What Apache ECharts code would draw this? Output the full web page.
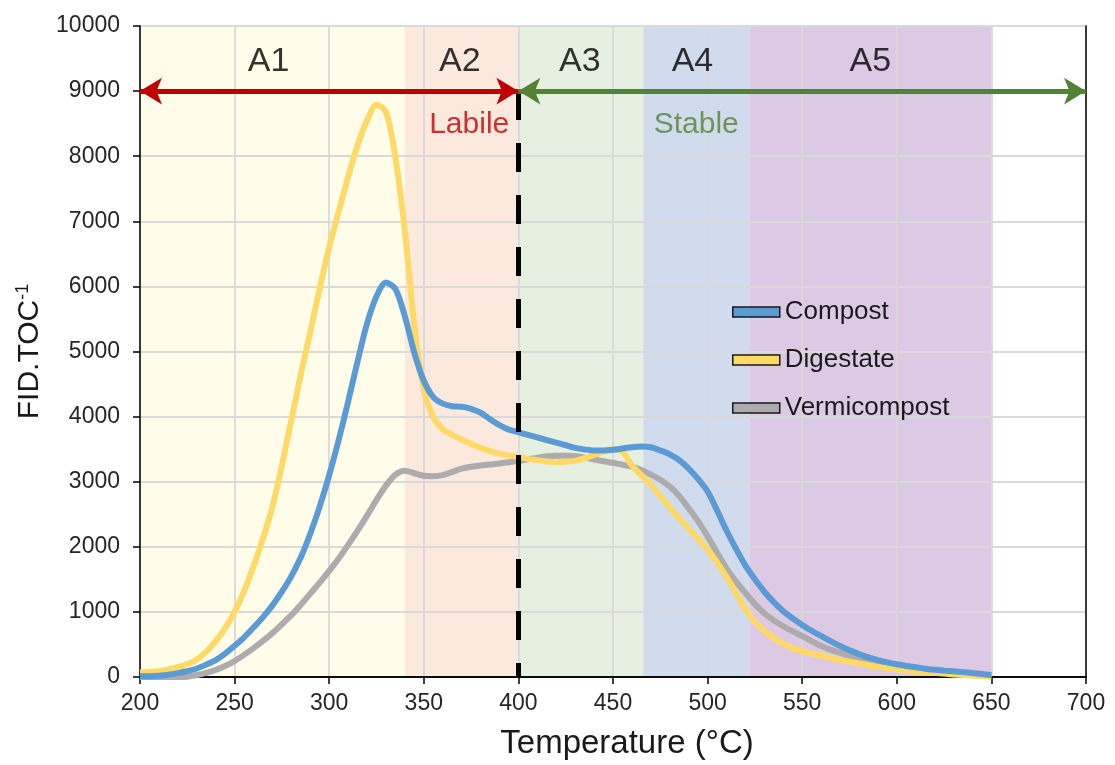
<!DOCTYPE html>
<html>
<head>
<meta charset="utf-8">
<script src="https://cdn.jsdelivr.net/npm/echarts@6/dist/echarts.min.js"></script>
<style>html,body{margin:0;padding:0;background:#fff;}#c{width:1115px;height:765px;}</style>
</head>
<body>
<div id="c"></div>
<script>
// Temperatures (°C)
var temps = [200,205,210,215,220,225,230,235,240,245,250,255,260,265,270,275,280,285,290,295,
  300,305,310,315,320,325,330,335,340,345,350,355,360,365,370,375,380,385,390,395,
  400,405,410,415,420,425,430,435,440,445,450,455,460,465,470,475,480,485,490,495,
  500,505,510,515,520,525,530,535,540,545,550,555,560,565,570,575,580,585,590,595,
  600,605,610,615,620,625,630,635,640,645,650];
var compost = [10,12,20,35,60,90,130,190,260,360,480,610,760,920,1100,1310,1550,1840,2200,2620,
  3100,3640,4230,4850,5430,5850,6060,5960,5540,4980,4550,4300,4200,4160,4150,4120,4060,3960,3870,3800,
  3760,3720,3680,3640,3600,3560,3520,3495,3480,3480,3490,3510,3530,3540,3530,3480,3420,3330,3200,3040,
  2850,2560,2250,1970,1710,1500,1310,1150,1010,900,800,710,630,550,475,410,352,300,260,225,
  195,170,150,128,110,98,88,75,60,45,30];
var digestate = [70,78,90,115,150,200,270,390,550,750,1000,1320,1700,2130,2620,3250,3950,4650,5300,5970,
  6600,7150,7680,8170,8550,8790,8680,7980,6850,5400,4420,3990,3810,3720,3650,3580,3520,3470,3430,3400,
  3380,3350,3330,3310,3300,3305,3320,3360,3410,3460,3500,3460,3250,3100,2950,2780,2600,2440,2280,2120,
  1960,1760,1540,1290,1040,850,710,600,510,445,395,360,330,295,260,235,210,180,155,135,
  118,100,85,75,65,52,40,30,22,15,10];
var vermicompost = [0,0,0,0,0,5,30,65,110,170,245,340,444,555,674,810,950,1110,1280,1450,
  1630,1820,2030,2250,2480,2720,2940,3110,3170,3130,3090,3085,3100,3150,3200,3230,3250,3265,3280,3300,
  3320,3345,3370,3390,3400,3400,3395,3370,3340,3315,3290,3260,3230,3180,3110,3030,2925,2780,2590,2390,
  2160,1910,1670,1470,1290,1120,980,870,780,700,630,550,475,420,370,320,275,240,210,185,
  165,140,120,105,90,75,60,45,30,20,10];

// Zones
var bandStart = [200,340,400,466,522];
var bandEnd = [340,400,466,522,650];
var bandColors = ['#FFFDEA','#FBE9DE','#E6F0E1','#D0DCEE','#DCCAE5'];
var zoneNames = ['A1','A2','A3','A4','A5'];
var zoneLabelX = [268,369,432.5,492,586];
var zoneLabelY = 9460;

var splitT = 400, arrowY = 9000;
var annoNames = ['Labile','Stable'];
var annoX = [374,494];
var annoY = 8480;

var chart = echarts.init(document.getElementById('c'));
var font = 'Liberation Sans, Arial, sans-serif';

function pairs(ys){ return temps.map(function(t,i){ return [t, ys[i]]; }); }

var bandData = bandStart.map(function(s,i){ return [s, bandEnd[i], i]; });

var option = {
  animation: false,
  backgroundColor: '#fff',
  grid: {left: 140, right: 29, top: 26, bottom: 86},
  legend: {
    orient: 'vertical', left: 727, top: 294,
    itemWidth: 47, itemHeight: 10, itemGap: 22,
    icon: 'rect',
    itemStyle: {borderColor: '#1a1a1a', borderWidth: 1.5},
    textStyle: {fontSize: 26, color: '#1a1a1a', fontFamily: font, padding: [0,0,0,0]},
    data: ['Compost','Digestate','Vermicompost']
  },
  xAxis: [{
    type: 'value', min: 200, max: 700, interval: 50,
    name: 'Temperature (°C)', nameLocation: 'middle', nameGap: 50,
    nameTextStyle: {fontSize: 33, color: '#1a1a1a', fontFamily: font, padding: [0,0,0,28]},
    axisLine: {lineStyle: {color: '#000', width: 1.5}},
    axisTick: {show: true, length: 7, lineStyle: {color: '#000', width: 1.5}},
    axisLabel: {fontSize: 23, color: '#262626', fontFamily: font, margin: 15},
    splitLine: {show: true, lineStyle: {color: '#D9D9D9', width: 1.8}}
  },{
    type: 'value', min: 200, max: 700, position: 'top',
    axisLine: {show: true, lineStyle: {color: '#000', width: 1.5}},
    axisTick: {show: false}, axisLabel: {show: false}, splitLine: {show: false}
  }],
  yAxis: [{
    type: 'value', min: 0, max: 10000, interval: 1000,
    name: '{a|FID.TOC}{b|-1}', nameLocation: 'middle', nameGap: 92, nameRotate: 90,
    nameTextStyle: {rich: {
      a: {fontSize: 30, color: '#1a1a1a', fontFamily: font},
      b: {fontSize: 18, color: '#1a1a1a', fontFamily: font, verticalAlign: 'top', padding: [0,0,14,0]}
    }},
    axisLine: {show: true, lineStyle: {color: '#000', width: 1.5}},
    axisTick: {show: true, length: 7, lineStyle: {color: '#000', width: 1.5}},
    axisLabel: {fontSize: 23, color: '#262626', fontFamily: font, margin: 20,
      formatter: function(v){ return String(v); }},
    splitLine: {show: true, lineStyle: {color: '#D9D9D9', width: 1.8}}
  },{
    type: 'value', min: 0, max: 10000, position: 'right',
    axisLine: {show: true, lineStyle: {color: '#000', width: 1.5}},
    axisTick: {show: false}, axisLabel: {show: false}, splitLine: {show: false}
  }],
  series: [
    {
      type: 'custom', name: 'bands', z: -1, silent: true,
      data: bandData,
      encode: {x: [0,1]},
      renderItem: function(params, api){
        var p0 = api.coord([api.value(0), 10000]);
        var p1 = api.coord([api.value(1), 0]);
        return {type: 'rect', shape: {x: p0[0], y: p0[1], width: p1[0]-p0[0], height: p1[1]-p0[1]},
                style: {fill: bandColors[api.value(2)]}};
      }
    },
    {
      name: 'Vermicompost', type: 'line', smooth: 0.3, showSymbol: false, z: 2,
      data: pairs(vermicompost),
      itemStyle: {color: '#ADABAB'},
      lineStyle: {color: '#ADABAB', width: 6}
    },
    {
      name: 'Digestate', type: 'line', smooth: 0.3, showSymbol: false, z: 3,
      data: pairs(digestate),
      itemStyle: {color: '#FFD966'},
      lineStyle: {color: '#FFD966', width: 6}
    },
    {
      name: 'Compost', type: 'line', smooth: 0.3, showSymbol: false, z: 4,
      data: pairs(compost),
      itemStyle: {color: '#5B9BD5'},
      lineStyle: {color: '#5B9BD5', width: 6},
      markLine: {
        silent: true, z: 10,
        symbol: ['none','none'],
        label: {show: false},
        data: [
          [{coord: [splitT, arrowY], lineStyle: {color: '#000', width: 5, type: [29, 23]}}, {coord: [splitT, 0]}],
          [{coord: [200, arrowY], symbol: 'arrow', symbolSize: [20, 22], lineStyle: {color: '#C00000', width: 5, type: 'solid'}}, {coord: [splitT, arrowY], symbol: 'arrow', symbolSize: [20, 22]}],
          [{coord: [splitT, arrowY], symbol: 'arrow', symbolSize: [20, 22], lineStyle: {color: '#548235', width: 5, type: 'solid'}}, {coord: [700, arrowY], symbol: 'arrow', symbolSize: [20, 22]}]
        ]
      }
    },
    {
      type: 'scatter', name: 'zones', symbolSize: 0, silent: true, z: 6,
      data: zoneNames.map(function(n,i){ return {name: n, value: [zoneLabelX[i], zoneLabelY]}; }),
      label: {show: true, position: 'inside', formatter: '{b}', fontSize: 34, color: '#000', fontFamily: font}
    },
    {
      type: 'scatter', name: 'anno', symbolSize: 0, silent: true, z: 6,
      data: annoNames.map(function(n,i){ return {name: n, value: [annoX[i], annoY],
        label: {color: i === 0 ? '#C00000' : '#548235'}}; }),
      label: {show: true, position: 'inside', formatter: '{b}', fontSize: 30, fontFamily: font}
    }
  ]
};
chart.setOption(option);
</script>
</body>
</html>
